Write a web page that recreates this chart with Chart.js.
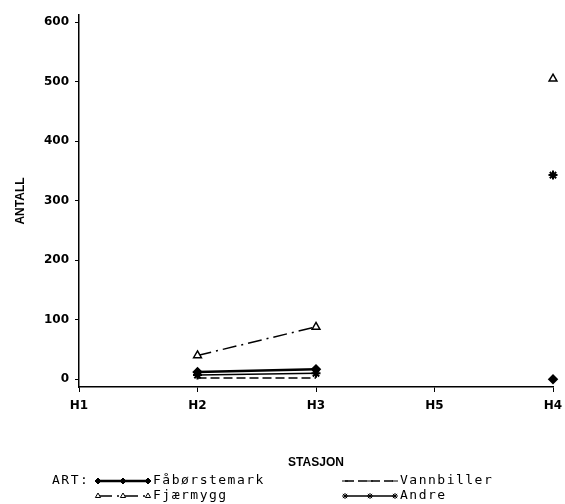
<!DOCTYPE html>
<html>
<head>
<meta charset="utf-8">
<script src="https://cdn.jsdelivr.net/npm/chart.js@4"></script>
<style>
  html, body { margin: 0; padding: 0; background: #fff; }
  #wrap { width: 565px; height: 504px; position: relative; }
</style>
</head>
<body>
<div id="wrap"><canvas id="chart" width="565" height="504"></canvas></div>
<script>
// Stations along x axis, in plotted order
const stations = ['H1', 'H2', 'H3', 'H5', 'H4'];

// Counts per group (null = not sampled)
const faborstemark = [null, 12, 17, null, 0];
const fjaermygg    = [null, 40, 88, null, 505];
const vannbiller   = [null, 2, 2, null, null];
const andre        = [null, 7, 10, null, 343];

const yTicks = [0, 100, 200, 300, 400, 500, 600];

// Legend drawn under the x-axis title, two columns like the original
const legendPlugin = {
    id: 'artLegend',
    afterDraw(chart) {
        const ctx = chart.ctx;
        ctx.save();
        ctx.fillStyle = '#000';
        ctx.strokeStyle = '#000';
        ctx.font = '13px "DejaVu Sans Mono"';
        ctx.letterSpacing = '1.5px';
        ctx.textBaseline = 'middle';
        ctx.fillText('ART:', 52, 481);
        const slots = [[98, 481], [98, 496], [345, 481], [345, 496]];
        chart.data.datasets.forEach((ds, i) => {
            const [x, y] = slots[i];
            ctx.lineWidth = ds.borderWidth;
            ctx.setLineDash(ds.borderDash || []);
            ctx.beginPath();
            ctx.moveTo(x, y);
            ctx.lineTo(x + 50, y);
            ctx.stroke();
            ctx.setLineDash([]);
            ctx.lineWidth = 1;
            [x, x + 25, x + 50].forEach(px => {
                ctx.fillStyle = ds.pointBackgroundColor;
                Chart.helpers.drawPoint(ctx, {
                    pointStyle: ds.pointStyle,
                    radius: 3,
                    borderWidth: 1
                }, px, y);
            });
            ctx.fillStyle = '#000';
            ctx.fillText(ds.label, x + 55, y);
        });
        ctx.restore();
    }
};

const mkSet = (label, data, opts) => Object.assign({
    label: label,
    data: data,
    borderColor: '#000',
    pointBorderColor: '#000',
    pointBackgroundColor: '#000',
    borderWidth: 1.5,
    pointRadius: 3.5,
    spanGaps: false,
    tension: 0
}, opts);

const tickFont = { family: 'DejaVu Sans', size: 12, weight: 'bold' };

new Chart(document.getElementById('chart'), {
    type: 'line',
    data: {
        labels: stations,
        datasets: [
            mkSet('Fåbørstemark', faborstemark, { pointStyle: 'rectRot', borderWidth: 2.5 }),
            mkSet('Fjærmygg', fjaermygg, { pointStyle: 'triangle', pointBackgroundColor: '#fff', borderDash: [14, 5, 2, 5], pointRadius: 4.5 }),
            mkSet('Vannbiller', vannbiller, { pointStyle: 'line', borderDash: [9, 4], pointRadius: 0 }),
            mkSet('Andre', andre, { pointStyle: 'star', borderWidth: 1.5, pointRadius: 4.5, pointBorderWidth: 2 })
        ]
    },
    options: {
        responsive: false,
        animation: false,
        layout: { padding: { top: 15, right: 12, bottom: 30, left: 9 } },
        plugins: {
            legend: { display: false },
            tooltip: { enabled: false }
        },
        scales: {
            x: {
                type: 'category',
                offset: false,
                grid: { drawOnChartArea: false, drawTicks: true, tickLength: 5, color: '#000' },
                border: { color: '#000', width: 1.5 },
                ticks: { color: '#000', font: tickFont, padding: 7 },
                title: { display: true, text: 'STASJON', color: '#000', font: { family: 'Liberation Sans', size: 12, weight: 'bold' }, padding: { top: 40, bottom: 4 } },
                afterFit(scale) {
                    scale.height = 87;
                    scale.paddingRight = 0;
                    scale.paddingLeft = 0;
                }
            },
            y: {
                min: -13,
                max: 612,
                grid: { drawOnChartArea: false, drawTicks: true, tickLength: 4, color: '#000' },
                border: { color: '#000', width: 1.5 },
                afterBuildTicks(scale) { scale.ticks = yTicks.map(v => ({ value: v })); },
                ticks: { color: '#000', font: tickFont, padding: 6 },
                title: { display: true, text: 'ANTALL', color: '#000', font: { family: 'Liberation Sans', size: 12, weight: 'bold' }, padding: { bottom: 6 } },
                afterFit(scale) { scale.width = 70; }
            }
        }
    },
    plugins: [legendPlugin]
});
</script>
</body>
</html>
